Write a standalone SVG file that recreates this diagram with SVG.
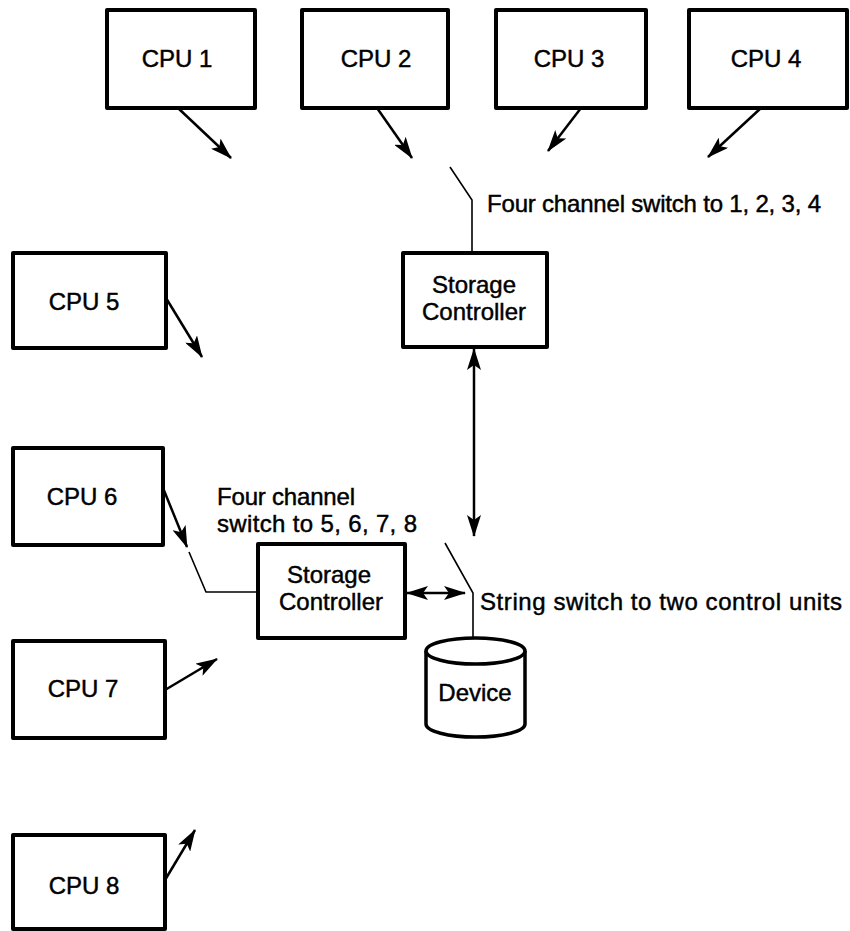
<svg xmlns="http://www.w3.org/2000/svg" width="850" height="931" viewBox="0 0 850 931">
<style>
.box{fill:#fff;stroke:#000;stroke-width:4;stroke-linejoin:round}
.t{font-family:"Liberation Sans",Arial,sans-serif;font-size:24px;fill:#000;stroke:#000;stroke-width:0.45}
.c{text-anchor:middle}
.arr{stroke:#000;stroke-width:2.5;fill:none}
.sw{stroke:#000;stroke-width:1.6;fill:none}
</style>
<defs>
<marker id="ah" viewBox="0 0 22 14" refX="21" refY="7" markerWidth="22" markerHeight="14" markerUnits="userSpaceOnUse" orient="auto-start-reverse">
<path d="M0,0 L22,7 L0,14 L5,7 Z" fill="#000"/>
</marker>
</defs>
<rect width="850" height="931" fill="#fff"/>

<g id="cpu1"><rect class="box" x="107" y="10" width="148" height="98"/><text class="t c" x="177" y="67">CPU 1</text></g>
<g id="cpu2"><rect class="box" x="302" y="10" width="146" height="98"/><text class="t c" x="376" y="67">CPU 2</text></g>
<g id="cpu3"><rect class="box" x="496" y="10" width="150" height="98"/><text class="t c" x="569" y="67">CPU 3</text></g>
<g id="cpu4"><rect class="box" x="689" y="10" width="158" height="98"/><text class="t c" x="766" y="67">CPU 4</text></g>
<g id="cpu5"><rect class="box" x="13" y="253" width="153" height="95"/><text class="t c" x="84" y="310">CPU 5</text></g>
<g id="cpu6"><rect class="box" x="13" y="448" width="150" height="97"/><text class="t c" x="82" y="505">CPU 6</text></g>
<g id="cpu7"><rect class="box" x="13" y="641" width="152" height="97"/><text class="t c" x="83" y="697">CPU 7</text></g>
<g id="cpu8"><rect class="box" x="13" y="835" width="152" height="94"/><text class="t c" x="84" y="894">CPU 8</text></g>

<g id="sc1"><rect class="box" x="403" y="253" width="144" height="94"/>
<text class="t c" x="474" y="293">Storage</text><text class="t c" x="474" y="320">Controller</text></g>
<g id="sc2"><rect class="box" x="258" y="544" width="147" height="94"/>
<text class="t c" x="329" y="583">Storage</text><text class="t c" x="331" y="610">Controller</text></g>

<g id="device">
<path d="M426,651 L426,724 A49.5,13 0 0 0 525,724 L525,651" fill="#fff" stroke="#000" stroke-width="3.5"/>
<ellipse cx="475.5" cy="651" rx="49.5" ry="13" fill="#fff" stroke="#000" stroke-width="3.5"/>
<text class="t c" x="475" y="701">Device</text>
</g>

<g id="labels">
<text class="t" x="487" y="212" textLength="334" lengthAdjust="spacing">Four channel switch to 1, 2, 3, 4</text>
<text class="t" x="217" y="505" textLength="138" lengthAdjust="spacing">Four channel</text>
<text class="t" x="217" y="532" textLength="200" lengthAdjust="spacing">switch to 5, 6, 7, 8</text>
<text class="t" x="480" y="610" textLength="362" lengthAdjust="spacing">String switch to two control units</text>
</g>

<g id="connectors">
<line class="arr" x1="178" y1="108" x2="231" y2="158" marker-end="url(#ah)"/>
<line class="arr" x1="377" y1="108" x2="412" y2="158" marker-end="url(#ah)"/>
<line class="arr" x1="581" y1="108" x2="548" y2="151" marker-end="url(#ah)"/>
<line class="arr" x1="761" y1="108" x2="708" y2="157" marker-end="url(#ah)"/>
<line class="arr" x1="166" y1="298" x2="202" y2="357" marker-end="url(#ah)"/>
<line class="arr" x1="163" y1="488" x2="187" y2="547" marker-end="url(#ah)"/>
<line class="arr" x1="165" y1="690" x2="217" y2="659" marker-end="url(#ah)"/>
<line class="arr" x1="165" y1="880" x2="195" y2="830" marker-end="url(#ah)"/>
<polyline class="sw" points="450,167 472,200 472,253"/>
<polyline class="sw" points="189,552 206,592 258,592"/>
<polyline class="sw" points="445,543 473,593 473,638"/>
<line class="arr" x1="474" y1="349" x2="474" y2="536" marker-start="url(#ah)" marker-end="url(#ah)"/>
<line class="arr" x1="407" y1="593" x2="465" y2="593" marker-start="url(#ah)" marker-end="url(#ah)"/>
</g>
</svg>
